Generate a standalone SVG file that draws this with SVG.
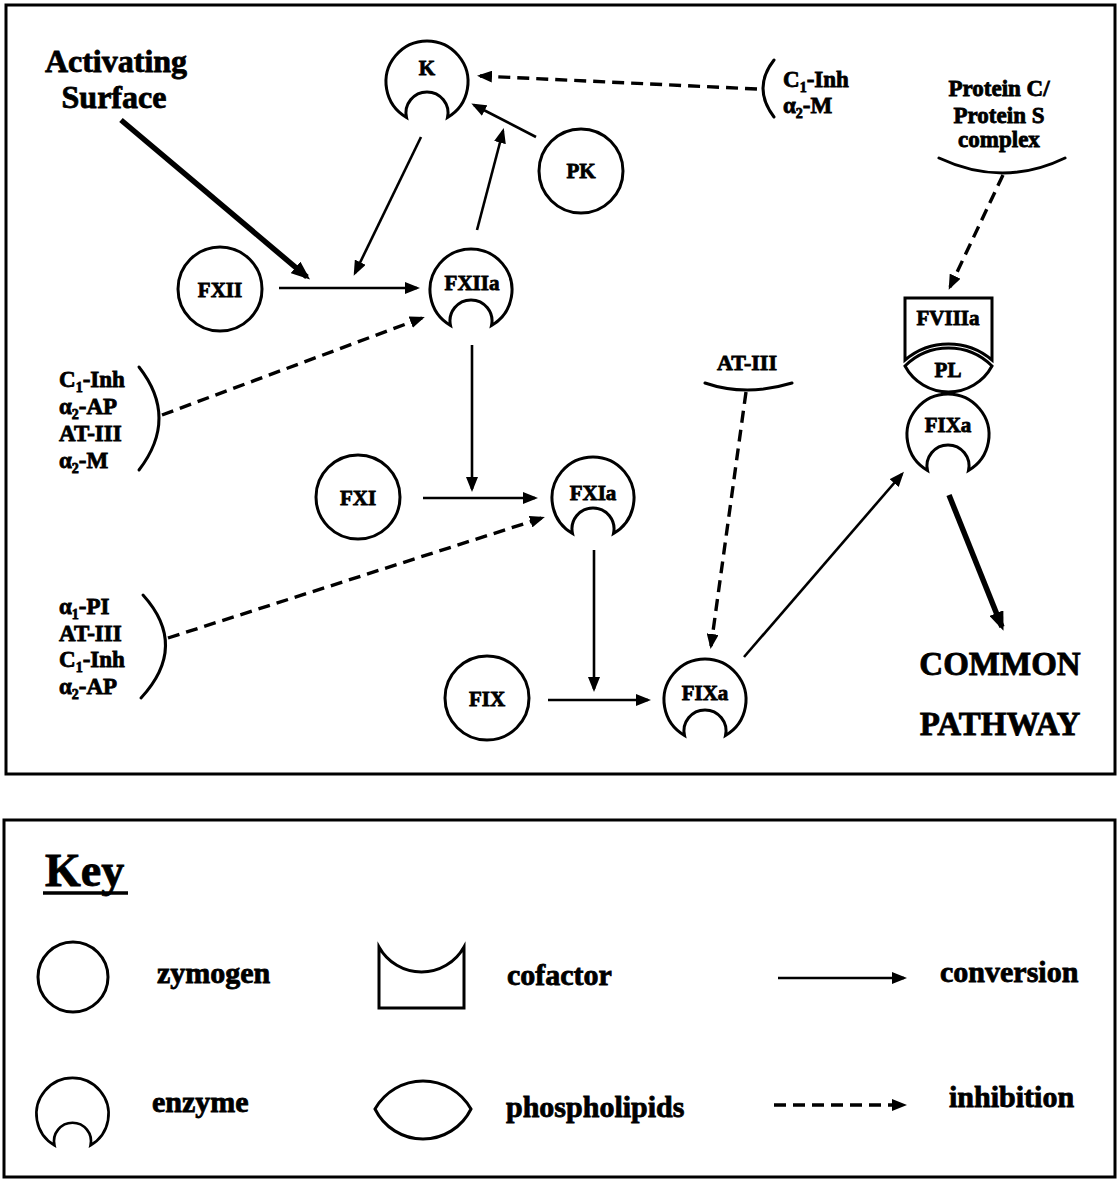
<svg xmlns="http://www.w3.org/2000/svg" xmlns:xlink="http://www.w3.org/1999/xlink" width="1120" height="1179" viewBox="0 0 1120 1179">
  <style>
    .frame { fill: none; stroke: #000; stroke-width: 3; }
    .shape { fill: none; stroke: #000; stroke-width: 3; stroke-linejoin: miter; stroke-miterlimit: 12; }
    .t { font-family: "Liberation Serif", "Times New Roman", serif; font-weight: bold; fill: #000; stroke: #000; stroke-width: 0.8; }
    .node-lbl { font-size: 21px; text-anchor: middle; }
    .inh-lbl { font-size: 23px; }
    .big { font-size: 32px; text-anchor: middle; }
    .key-lbl { font-size: 30px; }
    .conv { fill: none; stroke: #000; stroke-width: 2.6; }
    .thick { fill: none; stroke: #000; stroke-width: 5.5; }
    .inh { fill: none; stroke: #000; stroke-width: 3.4; stroke-dasharray: 12 7; }
    .bracket { fill: none; stroke: #000; stroke-width: 3; stroke-linecap: round; }
  </style>
  <defs>
    <marker id="ah" markerUnits="userSpaceOnUse" markerWidth="15" markerHeight="12" refX="12" refY="6" orient="auto">
      <path d="M0,0 L15,6 L0,12 z" fill="#000"/>
    </marker>
    <marker id="ahL" markerUnits="userSpaceOnUse" markerWidth="19" markerHeight="15" refX="15" refY="7.5" orient="auto">
      <path d="M0,0 L19,7.5 L0,15 z" fill="#000"/>
    </marker>
    <!-- enzyme: circle with an active-site notch at the bottom, centred on 0,0 -->
    <path id="enz" d="M-20.5,35.5 A41 41 0 1 1 20.5,35.5 A21 21 0 1 0 -20.5,35.5 Z"/>
  </defs>

  <rect width="1120" height="1179" fill="#fff"/>

  <!-- outer frames -->
  <rect class="frame" x="6" y="5" width="1109" height="769"/>
  <rect class="frame" x="4" y="820" width="1111" height="357"/>

  <!-- connectors -->
  <g id="connectors">
    <line class="thick" x1="121" y1="120" x2="307" y2="277" marker-end="url(#ahL)"/>
    <line class="conv" x1="421" y1="137" x2="355" y2="273" marker-end="url(#ah)"/>
    <line class="conv" x1="477" y1="230" x2="503" y2="131" marker-end="url(#ah)"/>
    <line class="conv" x1="536" y1="137" x2="474" y2="105" marker-end="url(#ah)"/>
    <line class="inh" x1="757" y1="89" x2="480" y2="76" marker-end="url(#ah)"/>
    <line class="conv" x1="279" y1="288" x2="417" y2="288" marker-end="url(#ah)"/>
    <line class="inh" x1="162" y1="415" x2="422" y2="318" marker-end="url(#ah)"/>
    <line class="conv" x1="472" y1="345" x2="472" y2="489" marker-end="url(#ah)"/>
    <line class="conv" x1="423" y1="498" x2="535" y2="498" marker-end="url(#ah)"/>
    <line class="inh" x1="168" y1="638" x2="542" y2="518" marker-end="url(#ah)"/>
    <line class="conv" x1="594" y1="550" x2="594" y2="689" marker-end="url(#ah)"/>
    <line class="conv" x1="548" y1="700" x2="648" y2="700" marker-end="url(#ah)"/>
    <line class="inh" x1="746" y1="392" x2="711" y2="646" marker-end="url(#ah)"/>
    <line class="conv" x1="744" y1="657" x2="902" y2="474" marker-end="url(#ah)"/>
    <line class="inh" x1="1003" y1="175" x2="950" y2="287" marker-end="url(#ah)"/>
    <line class="thick" x1="949" y1="495" x2="1002" y2="627" marker-end="url(#ahL)"/>

    <!-- inhibitor brackets -->
    <path class="bracket" d="M774,60 Q752,88 774,117"/>
    <path class="bracket" d="M139,367 Q179,418 139,470"/>
    <path class="bracket" d="M143,595 Q189,646 141,698"/>
    <path class="bracket" d="M705,383 Q746,397 792,383"/>
    <path class="bracket" d="M939,158 Q1003,188 1065,158"/>
  </g>

  <!-- free labels -->
  <g id="activating-surface">
    <text class="t big" x="116" y="72">Activating</text>
    <text class="t big" x="114" y="108">Surface</text>
  </g>

  <g id="inhib-K">
    <text class="t inh-lbl" x="783" y="87">C<tspan font-size="14" dy="5">1</tspan><tspan dy="-5">-Inh</tspan></text>
    <text class="t inh-lbl" x="783" y="113">α<tspan font-size="14" dy="5">2</tspan><tspan dy="-5">-M</tspan></text>
  </g>

  <g id="inhib-FXIIa">
    <text class="t inh-lbl" x="59" y="387">C<tspan font-size="14" dy="5">1</tspan><tspan dy="-5">-Inh</tspan></text>
    <text class="t inh-lbl" x="59" y="414">α<tspan font-size="14" dy="5">2</tspan><tspan dy="-5">-AP</tspan></text>
    <text class="t inh-lbl" x="59" y="441">AT-III</text>
    <text class="t inh-lbl" x="59" y="468">α<tspan font-size="14" dy="5">2</tspan><tspan dy="-5">-M</tspan></text>
  </g>

  <g id="inhib-FXIa">
    <text class="t inh-lbl" x="59" y="614">α<tspan font-size="14" dy="5">1</tspan><tspan dy="-5">-PI</tspan></text>
    <text class="t inh-lbl" x="59" y="641">AT-III</text>
    <text class="t inh-lbl" x="59" y="667">C<tspan font-size="14" dy="5">1</tspan><tspan dy="-5">-Inh</tspan></text>
    <text class="t inh-lbl" x="59" y="694">α<tspan font-size="14" dy="5">2</tspan><tspan dy="-5">-AP</tspan></text>
  </g>

  <g id="inhib-FIXa">
    <text class="t" x="747" y="370" font-size="22" text-anchor="middle">AT-III</text>
  </g>

  <g id="protein-cs">
    <text class="t" x="999" y="96" font-size="23" text-anchor="middle">Protein C/</text>
    <text class="t" x="999" y="123" font-size="23" text-anchor="middle">Protein S</text>
    <text class="t" x="999" y="147" font-size="23" text-anchor="middle">complex</text>
  </g>

  <g id="common-pathway">
    <text class="t" x="1000" y="675" font-size="33" text-anchor="middle">COMMON</text>
    <text class="t" x="1000" y="735" font-size="33" text-anchor="middle">PATHWAY</text>
  </g>

  <!-- zymogens -->
  <g id="node-FXII">
    <circle class="shape" cx="220" cy="289" r="42"/>
    <text class="t node-lbl" x="220" y="297">FXII</text>
  </g>
  <g id="node-PK">
    <circle class="shape" cx="581" cy="171" r="42"/>
    <text class="t node-lbl" x="581" y="178">PK</text>
  </g>
  <g id="node-FXI">
    <circle class="shape" cx="358" cy="497" r="42"/>
    <text class="t node-lbl" x="358" y="505">FXI</text>
  </g>
  <g id="node-FIX">
    <circle class="shape" cx="487" cy="698" r="42"/>
    <text class="t node-lbl" x="487" y="706">FIX</text>
  </g>

  <!-- enzymes -->
  <g id="node-K">
    <use xlink:href="#enz" class="shape" x="427" y="82"/>
    <text class="t node-lbl" x="427" y="75">K</text>
  </g>
  <g id="node-FXIIa">
    <use xlink:href="#enz" class="shape" x="471" y="290"/>
    <text class="t node-lbl" x="472" y="290">FXIIa</text>
  </g>
  <g id="node-FXIa">
    <use xlink:href="#enz" class="shape" x="593" y="498"/>
    <text class="t node-lbl" x="593" y="500">FXIa</text>
  </g>
  <g id="node-FIXa">
    <use xlink:href="#enz" class="shape" x="705" y="700"/>
    <text class="t node-lbl" x="705" y="700">FIXa</text>
  </g>

  <!-- tenase complex: FVIIIa on phospholipid with FIXa -->
  <g id="node-FVIIIa">
    <path class="shape" d="M905,298 L992,298 L992,360 A67 67 0 0 0 905,360 Z"/>
    <text class="t node-lbl" x="948" y="325">FVIIIa</text>
  </g>
  <g id="node-PL">
    <path class="shape" d="M905,366 A61.6 61.6 0 0 1 992,366 A49.4 49.4 0 0 1 905,366 Z"/>
    <text class="t node-lbl" x="948" y="377">PL</text>
  </g>
  <g id="node-FIXa-complex">
    <use xlink:href="#enz" class="shape" x="948" y="435"/>
    <text class="t node-lbl" x="948" y="432">FIXa</text>
  </g>

  <!-- key -->
  <g id="key">
    <text class="t" x="45" y="886" font-size="46">Key</text>
    <line x1="43" y1="893" x2="128" y2="893" stroke="#000" stroke-width="3.5"/>

    <g id="key-zymogen">
      <circle class="shape" cx="73" cy="977" r="35"/>
      <text class="t key-lbl" x="157" y="983">zymogen</text>
    </g>
    <g id="key-enzyme">
      <use xlink:href="#enz" class="shape" transform="translate(72.5,1114) scale(0.88)"/>
      <text class="t key-lbl" x="152" y="1112">enzyme</text>
    </g>
    <g id="key-cofactor">
      <path class="shape" d="M379,947 L379,1008 L464,1008 L464,947 A48.6 48.6 0 0 1 379,947 Z" stroke-linejoin="round"/>
      <text class="t key-lbl" x="507" y="985">cofactor</text>
    </g>
    <g id="key-phospholipids">
      <path class="shape" d="M375,1109 A55.1 55.1 0 0 1 471,1109 A53.4 53.4 0 0 1 375,1109 Z"/>
      <text class="t key-lbl" x="506" y="1117">phospholipids</text>
    </g>
    <g id="key-conversion">
      <line class="conv" x1="778" y1="978" x2="904" y2="978" marker-end="url(#ah)"/>
      <text class="t key-lbl" x="940" y="982">conversion</text>
    </g>
    <g id="key-inhibition">
      <line class="inh" x1="774" y1="1105" x2="904" y2="1105" stroke-dasharray="11 9" marker-end="url(#ah)"/>
      <text class="t key-lbl" x="949" y="1107">inhibition</text>
    </g>
  </g>
</svg>
